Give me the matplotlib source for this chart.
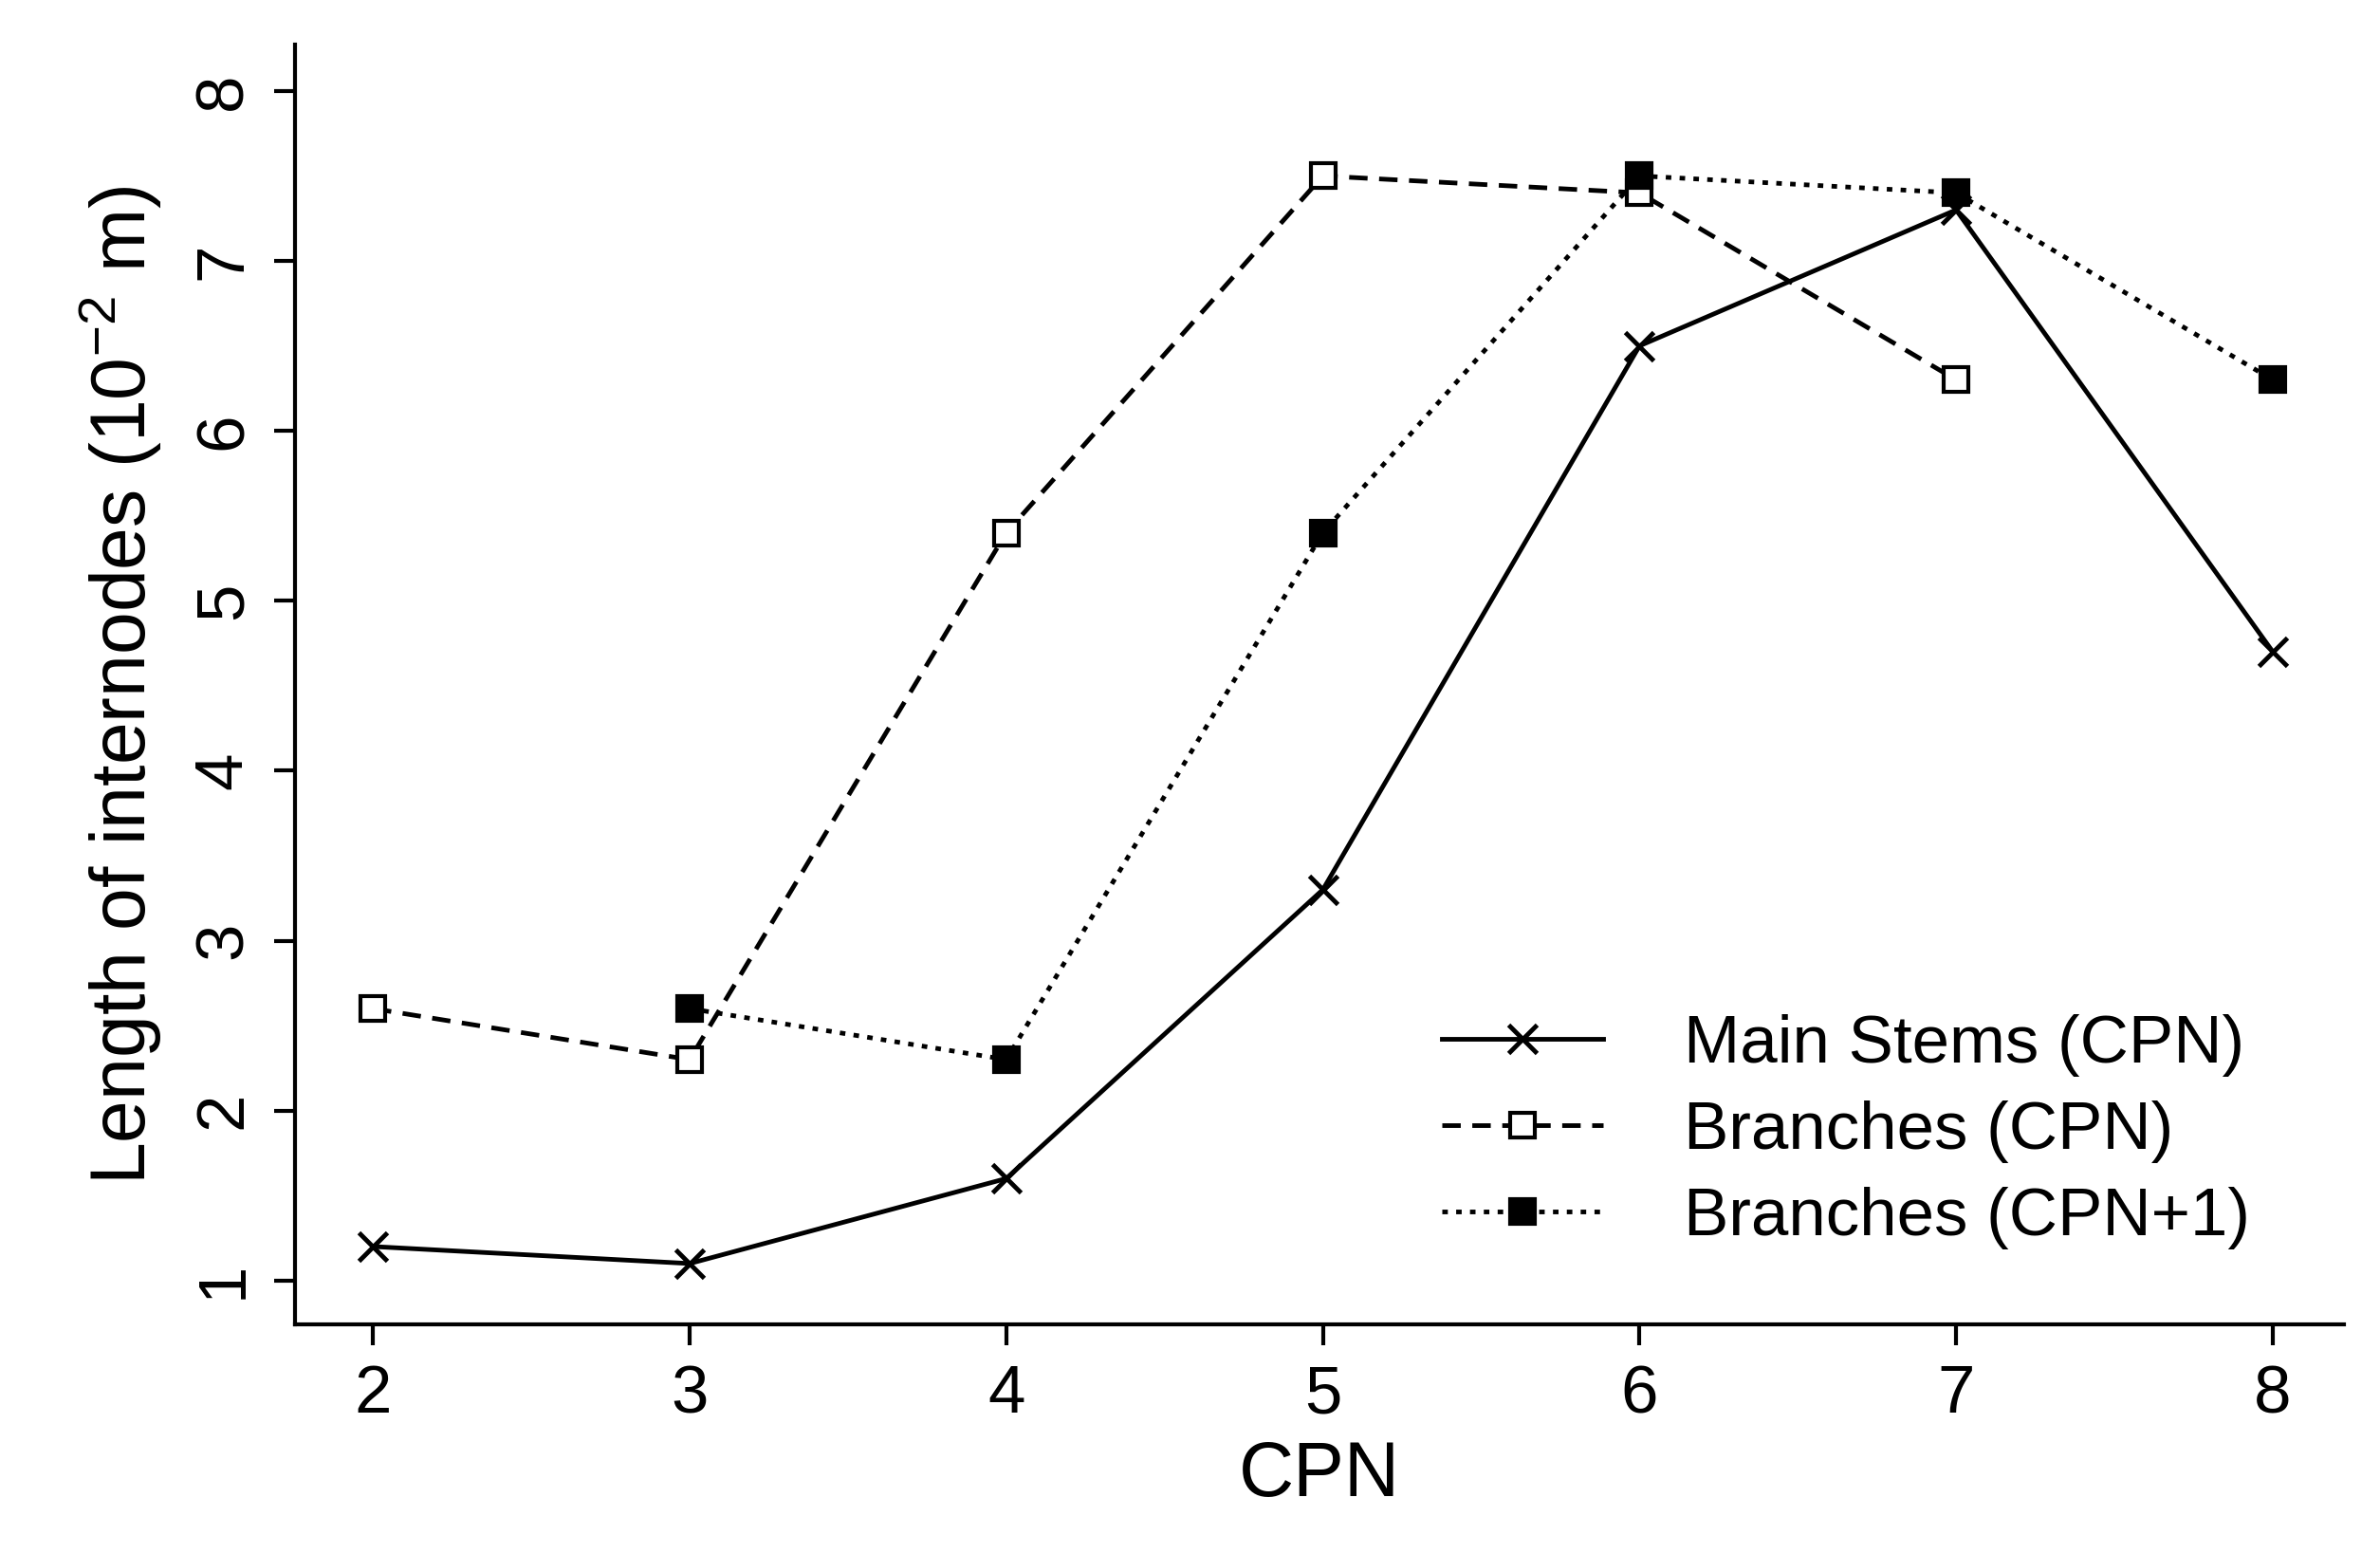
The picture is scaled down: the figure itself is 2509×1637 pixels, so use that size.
import matplotlib
matplotlib.use("Agg")
import matplotlib.pyplot as plt

plt.rcParams["font.family"] = ["Liberation Sans", "DejaVu Sans"]
plt.rcParams["mathtext.fontset"] = "custom"
plt.rcParams["mathtext.rm"] = "Liberation Sans"

cpn_main = [2, 3, 4, 5, 6, 7, 8]
main_stems = [1.2, 1.1, 1.6, 3.3, 6.5, 7.3, 4.7]
cpn_branch = [2, 3, 4, 5, 6, 7]
branches_cpn = [2.6, 2.3, 5.4, 7.5, 7.4, 6.3]
cpn_branch1 = [3, 4, 5, 6, 7, 8]
branches_cpn1 = [2.6, 2.3, 5.4, 7.5, 7.4, 6.3]

fig = plt.figure(figsize=(25.09, 16.37), dpi=100)
ax = fig.add_axes([0.124, 0.147, 0.861, 0.824])

lw = 3.5
ax.plot(cpn_main, main_stems, "k-", marker="x", ms=22, mew=3.5, lw=lw,
        label="Main Stems (CPN)")
ax.plot(cpn_branch, branches_cpn, "k", ls=(0, (4, 2.5)), marker="s", ms=19,
        mfc="white", mew=3, lw=lw, label="Branches (CPN)")
ax.plot(cpn_branch1, branches_cpn1, "k", ls=(0, (1.2, 1.8)), marker="s", ms=19,
        mfc="black", mew=3, lw=lw, label="Branches (CPN+1)")

ax.set_xlim(1.754, 8.226)
ax.set_ylim(0.74, 8.27)
ax.set_xticks(range(2, 9))
ax.set_yticks(range(1, 9))
for lab in ax.get_yticklabels():
    lab.set_rotation(90)
    lab.set_va("center")
ax.spines["top"].set_visible(False)
ax.spines["right"].set_visible(False)
for s in ("left", "bottom"):
    ax.spines[s].set_linewidth(3)
ax.tick_params(direction="out", length=16, width=3, labelsize=51, pad=14)

ax.set_xlabel("CPN", fontsize=58, labelpad=10)
ax.set_ylabel(r"Length of internodes (10$^{-2}$ m)", fontsize=58, labelpad=22)

ax.legend(loc="upper left", bbox_to_anchor=(0.53, 0.29), frameon=False,
          fontsize=51, handlelength=2.4, handletextpad=1.2, labelspacing=0.35)

fig.savefig("out.png", dpi=100)
